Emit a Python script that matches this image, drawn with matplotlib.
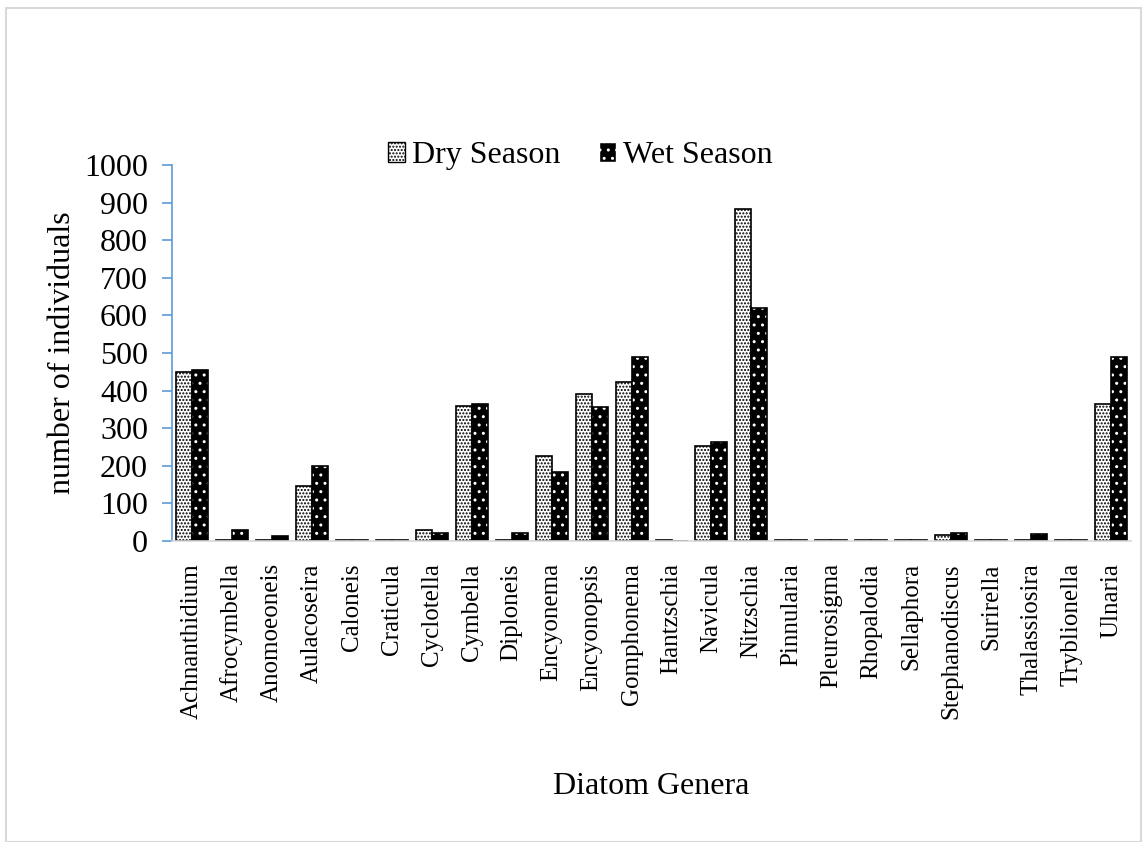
import matplotlib.pyplot as plt
import numpy as np
from matplotlib.patches import Rectangle, Patch

plt.rcParams['font.family'] = ['Liberation Serif', 'DejaVu Serif']
plt.rcParams['hatch.linewidth'] = 1.0

genera = ["Achnanthidium", "Afrocymbella", "Anomoeoneis", "Aulacoseira", "Caloneis",
          "Craticula", "Cyclotella", "Cymbella", "Diploneis", "Encyonema",
          "Encyonopsis", "Gomphonema", "Hantzschia", "Navicula", "Nitzschia",
          "Pinnularia", "Pleurosigma", "Rhopalodia", "Sellaphora", "Stephanodiscus",
          "Surirella", "Thalassiosira", "Tryblionella", "Ulnaria"]
dry = [449, 3, 3, 146, 3, 3, 30, 359, 3, 226, 391, 423, 3, 253, 883,
       3, 3, 3, 3, 15, 3, 3, 3, 364]
wet = [455, 30, 12, 200, 3, 3, 22, 364, 22, 184, 356, 489, 0, 263, 620,
       3, 3, 3, 3, 22, 3, 18, 3, 489]

fig = plt.figure(figsize=(11.44, 8.42), dpi=100)
ax = fig.add_axes([0.150, 0.3575, 0.839, 0.4465])

x = np.arange(len(genera))
w = 0.4

# dry season: white with dense black stipple
ax.bar(x - w / 2, dry, w, color='white', edgecolor='black', hatch='.....', linewidth=0)
ax.bar(x - w / 2, dry, w, fill=False, edgecolor='black', linewidth=1.2)
# wet season: black with white dots
ax.bar(x + w / 2, wet, w, color='black', edgecolor='white', hatch='..', linewidth=0)
ax.bar(x + w / 2, wet, w, fill=False, edgecolor='black', linewidth=1.2)

ax.set_xlim(-0.5, len(genera) - 0.5)
ax.set_ylim(0, 1000)
ax.set_yticks(range(0, 1001, 100))
ax.set_xticks(x)
ax.set_xticklabels(genera, rotation=90, fontsize=18)
ax.tick_params(axis='y', labelsize=23, color='#5B9BD5', length=7, width=1.2,
               direction='out', pad=10)
ax.tick_params(axis='x', length=0, pad=16)

for s in ['top', 'right']:
    ax.spines[s].set_visible(False)
ax.spines['left'].set_color('#5B9BD5')
ax.spines['left'].set_linewidth(1.2)
ax.spines['bottom'].set_color('#D9D9D9')
ax.spines['bottom'].set_linewidth(1.2)

ax.set_ylabel("number of individuals", fontsize=23, labelpad=5)
ax.set_xlabel("Diatom Genera", fontsize=23, labelpad=38)

h1 = Patch(facecolor='white', edgecolor='black', hatch='.....', label='Dry Season')
h2 = Patch(facecolor='black', edgecolor='white', hatch='..', label='Wet Season')
fig.legend(handles=[h1, h2], loc='center', bbox_to_anchor=(0.507, 0.815), ncol=2,
           frameon=False, fontsize=23, handlelength=0.55, handleheight=0.55,
           handletextpad=0.2, columnspacing=1.2)

fig.patches.append(Rectangle((0.005, 0.0), 0.992, 0.99, transform=fig.transFigure,
                             fill=False, edgecolor='#D9D9D9', linewidth=1.5))

fig.savefig("out.png", dpi=100)
